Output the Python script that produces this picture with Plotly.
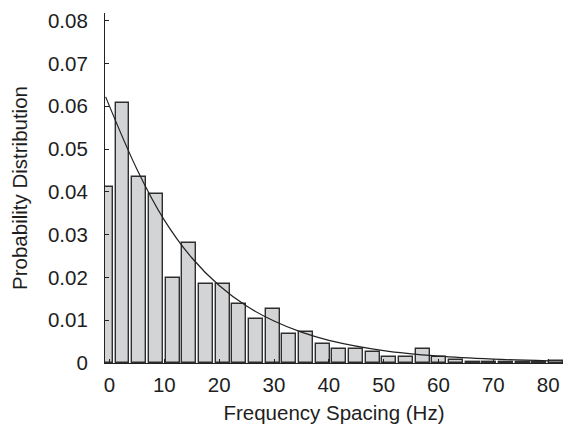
import plotly.graph_objects as go

# Histogram bin centres (Hz) and probability densities
bin_centers = [-0.67, 2.37, 5.41, 8.45, 11.49, 14.53, 17.57, 20.61, 23.65, 26.69,
               29.73, 32.77, 35.81, 38.85, 41.89, 44.93, 47.97, 51.01, 54.05, 57.09,
               60.13, 63.17, 66.21, 69.25, 72.29, 75.33, 78.37, 81.41]
densities = [0.0412, 0.0607, 0.0435, 0.0394, 0.0198, 0.0281, 0.0185, 0.0185, 0.0139, 0.0103,
             0.0126, 0.0067, 0.0073, 0.0044, 0.0032, 0.0032, 0.0025, 0.0013, 0.0013, 0.0032,
             0.0013, 0.0008, 0.0003, 0.0002, 0.0002, 0.0003, 0.0002, 0.0005]

# Fitted curve, points
curve_x = [-0.7, 5, 10, 15, 20, 25, 30, 35, 40, 50, 60, 70, 80]
curve_y = [0.0622, 0.0453, 0.0334, 0.0246, 0.0181, 0.0133, 0.0098, 0.0072,
           0.0053, 0.0029, 0.0016, 0.0009, 0.0005]

y_ticks = [0, 0.01, 0.02, 0.03, 0.04, 0.05, 0.06, 0.07, 0.08]
x_ticks = [0, 10, 20, 30, 40, 50, 60, 70, 80]

FONT = "Liberation Sans, Arial, Helvetica, sans-serif"
FS = 20.5

fig = go.Figure()
fig.add_trace(go.Bar(
    x=bin_centers, y=densities, width=2.55,
    marker=dict(color="#d3d4d6", line=dict(color="#2e2e2e", width=1.4)),
    showlegend=False,
))
fig.add_trace(go.Scatter(
    x=curve_x, y=curve_y, mode="lines",
    line=dict(color="#222222", width=1.2, shape="spline"),
    showlegend=False,
))

fig.update_layout(
    width=563, height=427,
    margin=dict(l=104.5, r=0, t=13, b=64),
    paper_bgcolor="white", plot_bgcolor="white",
    font=dict(family=FONT, size=FS, color="#1e1e1e"),
    bargap=0,
)
fig.update_xaxes(
    range=[-0.82, 82.7], tickvals=x_ticks, ticktext=[str(v) for v in x_ticks],
    showline=True, linecolor="#222222", linewidth=1.2,
    ticks="inside", ticklen=4, tickcolor="#222222",
    showgrid=False, zeroline=False,
    tickfont=dict(size=FS), ticklabelstandoff=3,
    title=dict(text="Frequency Spacing (Hz)", font=dict(size=FS), standoff=10),
)
fig.update_yaxes(
    range=[0, 0.0818], tickvals=y_ticks, ticktext=[("0" if v == 0 else f"{v:.2f}") for v in y_ticks],
    showline=True, linecolor="#222222", linewidth=1.2,
    ticks="inside", ticklen=4, tickcolor="#222222",
    showgrid=False, zeroline=False,
    tickfont=dict(size=FS), ticklabelstandoff=12,
    title=dict(text="Probability Distribution", font=dict(size=FS), standoff=14),
)

fig.write_html("out.html")
